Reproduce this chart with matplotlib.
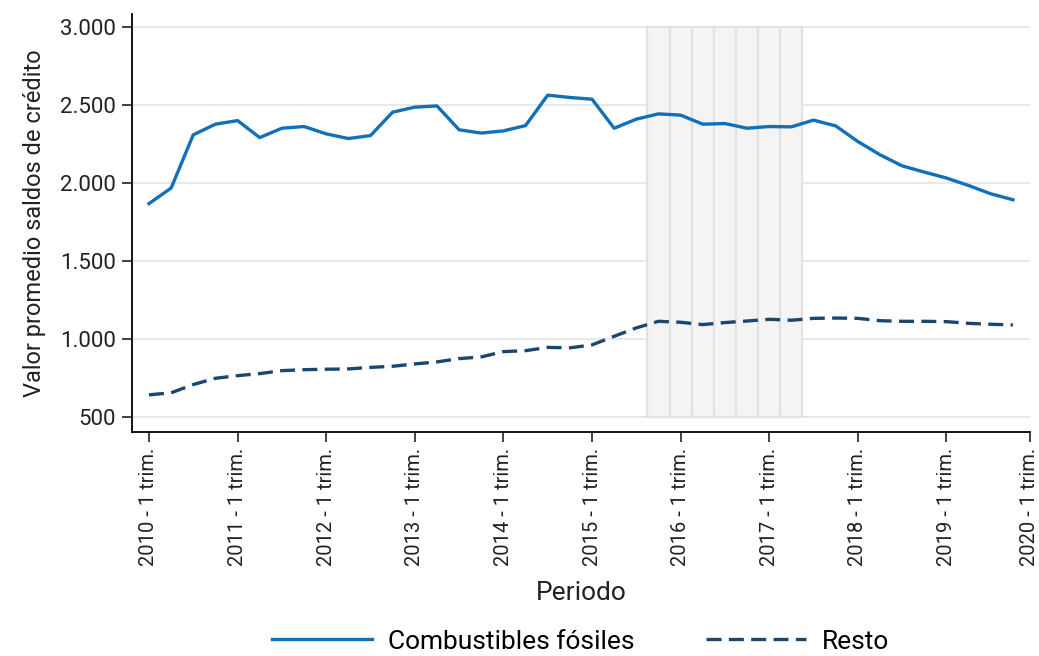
import numpy as np
import matplotlib
matplotlib.use('Agg')
import matplotlib.pyplot as plt
from matplotlib.ticker import FuncFormatter

plt.rcParams['font.family'] = ['Roboto', 'DejaVu Sans']

# quarters 2010Q1 .. 2019Q4
years = list(range(2010, 2020))
periodos = [f"{y} - {q} trim." for y in years for q in range(1, 5)]

# Valor promedio saldos de credito
fosiles = [1870, 1970, 2311, 2379, 2402, 2293, 2353, 2364, 2317, 2287,
           2306, 2456, 2488, 2496, 2343, 2322, 2336, 2370, 2565, 2550,
           2539, 2353, 2411, 2445, 2437, 2379, 2383, 2353, 2364, 2362,
           2405, 2368, 2268, 2183, 2112, 2072, 2034, 1986, 1933, 1895]
resto = [645, 658, 711, 751, 768, 781, 800, 806, 809, 811,
         821, 828, 843, 856, 877, 888, 922, 928, 949, 946,
         965, 1020, 1074, 1116, 1110, 1095, 1108, 1118, 1129, 1123,
         1135, 1137, 1135, 1120, 1116, 1116, 1114, 1103, 1097, 1093]

# shaded quarters (2015 4 trim. .. 2017 2 trim.)
sombra = ["2015 - 4 trim.", "2016 - 1 trim.", "2016 - 2 trim.", "2016 - 3 trim.",
          "2016 - 4 trim.", "2017 - 1 trim.", "2017 - 2 trim."]

tick_labels = [f"{y} - 1 trim." for y in range(2010, 2021)]

azul = '#1170b8'
navy = '#1a476f'

fig = plt.figure(figsize=(10.39, 6.56), dpi=100)
ax = fig.add_axes([0.1275, 0.341, 0.8638, 0.6377])

x = np.arange(len(periodos))

for s in sombra:
    i = periodos.index(s)
    ax.fill_between([i - 0.5, i + 0.5], 500, 3000, facecolor='#f4f4f4',
                    edgecolor='#e2e2e2', linewidth=1.6, zorder=1)

ax.plot(x, fosiles, color=azul, lw=2.4, label='Combustibles fósiles', zorder=3)
ax.plot(x, resto, color=navy, lw=2.4, ls=(0, (4.5, 2.2)), label='Resto', zorder=3)

ax.set_ylim(405, 3085)
xmax = 39.77
ax.set_xlim(-0.745, xmax)
ax.set_yticks([500, 1000, 1500, 2000, 2500, 3000])
ax.yaxis.set_major_formatter(FuncFormatter(lambda v, p: f"{int(v):,}".replace(',', '.')))
ax.set_xticks([4 * k for k in range(10)] + [xmax])
ax.set_xticklabels(tick_labels, rotation=90)

ax.grid(axis='y', color='#e6e6e6', lw=1.3, zorder=0)
ax.set_axisbelow(True)
for sp in ['top', 'right']:
    ax.spines[sp].set_visible(False)
for sp in ['left', 'bottom']:
    ax.spines[sp].set_linewidth(1.3)
ax.tick_params(axis='both', length=7, width=1.2, colors='#222222',
               labelcolor='#222222')
ax.tick_params(axis='x', labelsize=14.5, pad=4)
ax.tick_params(axis='y', labelsize=16, pad=5)

ax.set_ylabel('Valor promedio saldos de crédito', fontsize=17, color='#222222')
ax.set_xlabel('Periodo', fontsize=19, color='#222222')
ax.yaxis.set_label_coords(-0.096, 0.5)
ax.xaxis.set_label_coords(0.5, -0.355)

fig.legend(loc='center', bbox_to_anchor=(0.559, 0.022), ncol=2, frameon=False,
           fontsize=19, handlelength=3.8, handletextpad=0.6, columnspacing=2.7,
           borderpad=0.2)

fig.savefig('out.png', dpi=100)
